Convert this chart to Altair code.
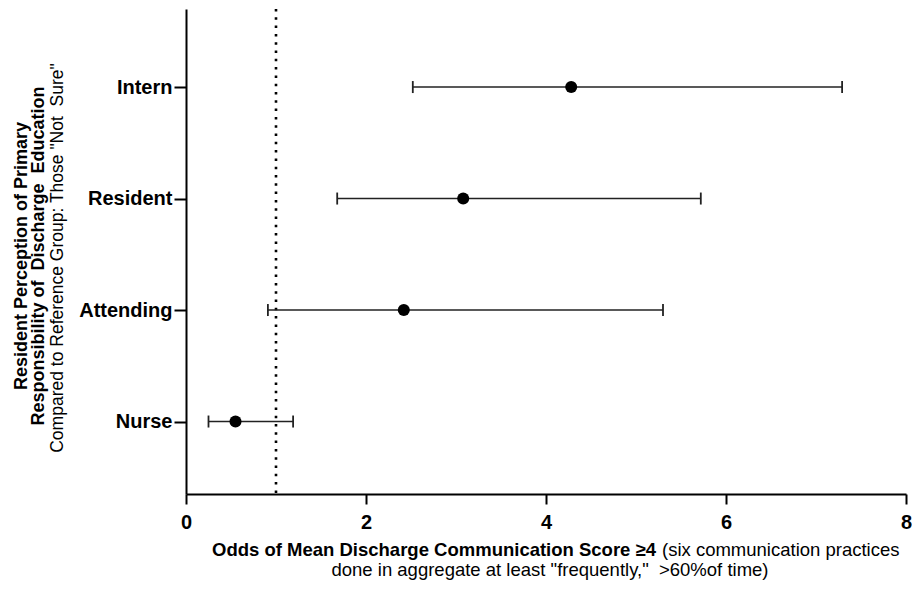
import altair as alt
import pandas as pd

categories = ["Intern", "Resident", "Attending", "Nurse"]
odds = [4.28, 3.08, 2.42, 0.55]
ci_low = [2.52, 1.68, 0.91, 0.25]
ci_high = [7.29, 5.72, 5.30, 1.19]
x_ticks = [0, 2, 4, 6, 8]
reference_line = [1.0]

NB = "\u00a0"
y_title_lines = [
    "Resident Perception of Primary",
    "Responsibility of " + NB + "Discharge " + NB + "Education",
    "Compared to Reference Group: Those \"Not " + NB + "Sure\"",
]
x_title_bold = "Odds of Mean Discharge Communication Score \u22654"
x_title_rest = "(six communication practices"
x_title_line2 = "done in aggregate at least \"frequently,\" " + NB + ">60%of time)"

n = len(categories)
df = pd.DataFrame({
    "category": categories,
    "odds": odds,
    "lo": ci_low,
    "hi": ci_high,
    "pos": [n - i for i in range(n)],
})

label_expr = ""
for i, c in enumerate(categories):
    label_expr += f"datum.value == {n - i} ? '{c}' : "
label_expr += "''"

FONT = "Liberation Sans, Arial"

xscale = alt.Scale(domain=[0, 8], nice=False, zero=True)
yscale = alt.Scale(domain=[0.35, 4.70], nice=False, zero=False)
xaxis = alt.Axis(values=x_ticks, title=None, grid=False, labelFontSize=20, labelFontWeight="bold",
                 labelFont=FONT, tickSize=10, labelPadding=8, labelColor="black",
                 labelFlush=False, labelOverlap=False)
yaxis = alt.Axis(values=list(range(1, n + 1)), labelExpr=label_expr, title=None, grid=False,
                 labelFontSize=20, labelFontWeight="bold", labelFont=FONT, tickSize=12,
                 labelPadding=2, labelColor="black")

base = alt.Chart(df)

ref = alt.Chart(pd.DataFrame({"x": reference_line})).mark_rule(
    strokeDash=[2.5, 5.8], strokeWidth=2.6, color="black"
).encode(x=alt.X("x:Q", scale=xscale, axis=xaxis))

whisker = base.mark_rule(strokeWidth=1.6, color="#222222").encode(
    x=alt.X("lo:Q", scale=xscale, axis=xaxis), x2="hi:Q",
    y=alt.Y("pos:Q", scale=yscale, axis=yaxis),
)
cap_lo = base.mark_rule(strokeWidth=1.8, color="#222222", yOffset=-6, y2Offset=6).encode(
    x=alt.X("lo:Q", scale=xscale, axis=xaxis),
    y=alt.Y("pos:Q", scale=yscale, axis=yaxis), y2="pos:Q",
)
cap_hi = base.mark_rule(strokeWidth=1.8, color="#222222", yOffset=-6, y2Offset=6).encode(
    x=alt.X("hi:Q", scale=xscale, axis=xaxis),
    y=alt.Y("pos:Q", scale=yscale, axis=yaxis), y2="pos:Q",
)
points = base.mark_circle(size=145, opacity=1, color="black").encode(
    x=alt.X("odds:Q", scale=xscale, axis=xaxis),
    y=alt.Y("pos:Q", scale=yscale, axis=yaxis),
)


def txt(s, x, y, weight="normal", size=15, align="center", angle=0):
    return alt.Chart(pd.DataFrame({"t": [s]})).mark_text(
        font=FONT, fontSize=size, fontWeight=weight, align=align, baseline="middle",
        angle=angle, color="black"
    ).encode(text="t:N", x=alt.value(x), y=alt.value(y))


# plot area: page x 186..906, page y 9..494
texts = [
    txt(y_title_lines[0], -164, 247, "bold", 18, angle=270),
    txt(y_title_lines[1], -147, 247, "bold", 18, angle=270),
    txt(y_title_lines[2], -128, 249, "normal", 17.5, angle=270),
    txt(x_title_bold, 470, 541, "bold", 18.5, align="right"),
    txt(x_title_rest, 476, 541, "normal", 18.5, align="left"),
    txt(x_title_line2, 364, 561, "normal", 18.5),
]

chart = alt.layer(ref, whisker, cap_lo, cap_hi, points, *texts).properties(
    width=720, height=485,
    autosize=alt.AutoSizeParams(type="none"),
    padding={"left": 178, "top": 1, "right": 6, "bottom": 88},
).configure_view(stroke=None).configure_axis(
    domainColor="black", domainWidth=2, tickColor="black", tickWidth=2,
)

chart.save("out.html", embed_options={"renderer": "svg", "actions": False})
